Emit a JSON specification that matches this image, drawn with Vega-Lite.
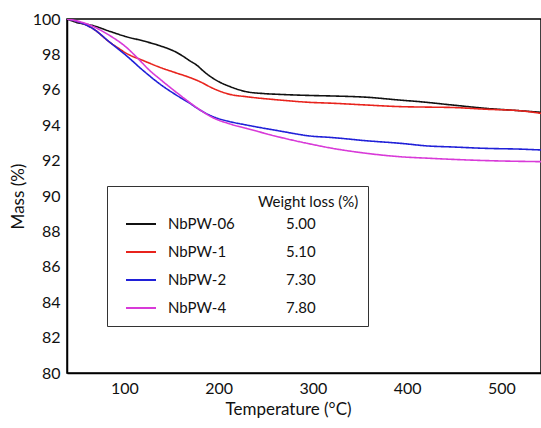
{
  "$schema": "https://vega.github.io/schema/vega-lite/v6.json",
  "width": 474,
  "height": 354,
  "autosize": {"type": "none"},
  "padding": {"left": 67, "top": 19, "right": 0, "bottom": 55},
  "background": "white",
  "config": {
    "font": "Lato",
    "view": {"stroke": "#000", "strokeWidth": 1.5},
    "axis": {"grid": false, "ticks": false, "tickSize": 0, "domainColor": "#000", "domainWidth": 1.5, "labelColor": "#111", "labelFontSize": 16, "labelFont": "Lato", "titleFont": "Lato", "titleFontSize": 17, "titleFontWeight": "normal", "titleColor": "#111"},
    "legend": {"labelFont": "Lato", "labelFontSize": 15, "labelColor": "#111", "titleFont": "Lato", "titleFontSize": 15, "titleFontWeight": "normal", "titleColor": "#111"}
  },
  "data": {"values": [
    {"series": "NbPW-06", "loss": "5.00", "T": 39, "mass": 100},
    {"series": "NbPW-06", "loss": "5.00", "T": 49, "mass": 99.81},
    {"series": "NbPW-06", "loss": "5.00", "T": 67, "mass": 99.62},
    {"series": "NbPW-06", "loss": "5.00", "T": 84.5, "mass": 99.3},
    {"series": "NbPW-06", "loss": "5.00", "T": 102, "mass": 99.0},
    {"series": "NbPW-06", "loss": "5.00", "T": 120, "mass": 98.76},
    {"series": "NbPW-06", "loss": "5.00", "T": 137.5, "mass": 98.49},
    {"series": "NbPW-06", "loss": "5.00", "T": 155, "mass": 98.12},
    {"series": "NbPW-06", "loss": "5.00", "T": 162, "mass": 97.9},
    {"series": "NbPW-06", "loss": "5.00", "T": 169, "mass": 97.65},
    {"series": "NbPW-06", "loss": "5.00", "T": 176.5, "mass": 97.4},
    {"series": "NbPW-06", "loss": "5.00", "T": 185, "mass": 97.0},
    {"series": "NbPW-06", "loss": "5.00", "T": 194, "mass": 96.65},
    {"series": "NbPW-06", "loss": "5.00", "T": 203, "mass": 96.38},
    {"series": "NbPW-06", "loss": "5.00", "T": 212, "mass": 96.18},
    {"series": "NbPW-06", "loss": "5.00", "T": 229.5, "mass": 95.89},
    {"series": "NbPW-06", "loss": "5.00", "T": 247, "mass": 95.79},
    {"series": "NbPW-06", "loss": "5.00", "T": 265, "mass": 95.74},
    {"series": "NbPW-06", "loss": "5.00", "T": 297, "mass": 95.68},
    {"series": "NbPW-06", "loss": "5.00", "T": 321, "mass": 95.65},
    {"series": "NbPW-06", "loss": "5.00", "T": 357, "mass": 95.58},
    {"series": "NbPW-06", "loss": "5.00", "T": 392, "mass": 95.42},
    {"series": "NbPW-06", "loss": "5.00", "T": 413, "mass": 95.33},
    {"series": "NbPW-06", "loss": "5.00", "T": 448, "mass": 95.14},
    {"series": "NbPW-06", "loss": "5.00", "T": 484, "mass": 94.95},
    {"series": "NbPW-06", "loss": "5.00", "T": 519, "mass": 94.82},
    {"series": "NbPW-06", "loss": "5.00", "T": 542, "mass": 94.73},
    {"series": "NbPW-1", "loss": "5.10", "T": 39, "mass": 100},
    {"series": "NbPW-1", "loss": "5.10", "T": 49, "mass": 99.87},
    {"series": "NbPW-1", "loss": "5.10", "T": 67, "mass": 99.44},
    {"series": "NbPW-1", "loss": "5.10", "T": 84.5, "mass": 98.68},
    {"series": "NbPW-1", "loss": "5.10", "T": 95, "mass": 98.3},
    {"series": "NbPW-1", "loss": "5.10", "T": 102, "mass": 98.06},
    {"series": "NbPW-1", "loss": "5.10", "T": 120, "mass": 97.65},
    {"series": "NbPW-1", "loss": "5.10", "T": 137.5, "mass": 97.27},
    {"series": "NbPW-1", "loss": "5.10", "T": 155, "mass": 96.95},
    {"series": "NbPW-1", "loss": "5.10", "T": 169, "mass": 96.7},
    {"series": "NbPW-1", "loss": "5.10", "T": 180, "mass": 96.46},
    {"series": "NbPW-1", "loss": "5.10", "T": 194, "mass": 96.08},
    {"series": "NbPW-1", "loss": "5.10", "T": 212, "mass": 95.74},
    {"series": "NbPW-1", "loss": "5.10", "T": 229.5, "mass": 95.61},
    {"series": "NbPW-1", "loss": "5.10", "T": 265, "mass": 95.42},
    {"series": "NbPW-1", "loss": "5.10", "T": 297, "mass": 95.29},
    {"series": "NbPW-1", "loss": "5.10", "T": 321, "mass": 95.24},
    {"series": "NbPW-1", "loss": "5.10", "T": 357, "mass": 95.14},
    {"series": "NbPW-1", "loss": "5.10", "T": 392, "mass": 95.05},
    {"series": "NbPW-1", "loss": "5.10", "T": 424, "mass": 95.02},
    {"series": "NbPW-1", "loss": "5.10", "T": 448, "mass": 95.0},
    {"series": "NbPW-1", "loss": "5.10", "T": 484, "mass": 94.9},
    {"series": "NbPW-1", "loss": "5.10", "T": 519, "mass": 94.82},
    {"series": "NbPW-1", "loss": "5.10", "T": 542, "mass": 94.67},
    {"series": "NbPW-2", "loss": "7.30", "T": 39, "mass": 100},
    {"series": "NbPW-2", "loss": "7.30", "T": 49, "mass": 99.87},
    {"series": "NbPW-2", "loss": "7.30", "T": 67, "mass": 99.44},
    {"series": "NbPW-2", "loss": "7.30", "T": 84.5, "mass": 98.68},
    {"series": "NbPW-2", "loss": "7.30", "T": 102, "mass": 97.93},
    {"series": "NbPW-2", "loss": "7.30", "T": 120, "mass": 97.08},
    {"series": "NbPW-2", "loss": "7.30", "T": 137.5, "mass": 96.33},
    {"series": "NbPW-2", "loss": "7.30", "T": 155, "mass": 95.7},
    {"series": "NbPW-2", "loss": "7.30", "T": 169, "mass": 95.25},
    {"series": "NbPW-2", "loss": "7.30", "T": 176.5, "mass": 94.98},
    {"series": "NbPW-2", "loss": "7.30", "T": 194, "mass": 94.48},
    {"series": "NbPW-2", "loss": "7.30", "T": 212, "mass": 94.2},
    {"series": "NbPW-2", "loss": "7.30", "T": 229.5, "mass": 94.01},
    {"series": "NbPW-2", "loss": "7.30", "T": 265, "mass": 93.67},
    {"series": "NbPW-2", "loss": "7.30", "T": 297, "mass": 93.39},
    {"series": "NbPW-2", "loss": "7.30", "T": 321, "mass": 93.3},
    {"series": "NbPW-2", "loss": "7.30", "T": 357, "mass": 93.12},
    {"series": "NbPW-2", "loss": "7.30", "T": 392, "mass": 92.98},
    {"series": "NbPW-2", "loss": "7.30", "T": 424, "mass": 92.82},
    {"series": "NbPW-2", "loss": "7.30", "T": 448, "mass": 92.77},
    {"series": "NbPW-2", "loss": "7.30", "T": 484, "mass": 92.69},
    {"series": "NbPW-2", "loss": "7.30", "T": 519, "mass": 92.65},
    {"series": "NbPW-2", "loss": "7.30", "T": 542, "mass": 92.6},
    {"series": "NbPW-4", "loss": "7.80", "T": 39, "mass": 100},
    {"series": "NbPW-4", "loss": "7.80", "T": 49, "mass": 99.9},
    {"series": "NbPW-4", "loss": "7.80", "T": 67, "mass": 99.57},
    {"series": "NbPW-4", "loss": "7.80", "T": 84.5, "mass": 99.06},
    {"series": "NbPW-4", "loss": "7.80", "T": 102, "mass": 98.4},
    {"series": "NbPW-4", "loss": "7.80", "T": 113, "mass": 97.84},
    {"series": "NbPW-4", "loss": "7.80", "T": 127, "mass": 97.08},
    {"series": "NbPW-4", "loss": "7.80", "T": 137.5, "mass": 96.61},
    {"series": "NbPW-4", "loss": "7.80", "T": 155, "mass": 95.86},
    {"series": "NbPW-4", "loss": "7.80", "T": 169, "mass": 95.29},
    {"series": "NbPW-4", "loss": "7.80", "T": 176.5, "mass": 95.0},
    {"series": "NbPW-4", "loss": "7.80", "T": 194, "mass": 94.42},
    {"series": "NbPW-4", "loss": "7.80", "T": 212, "mass": 94.07},
    {"series": "NbPW-4", "loss": "7.80", "T": 229.5, "mass": 93.82},
    {"series": "NbPW-4", "loss": "7.80", "T": 265, "mass": 93.32},
    {"series": "NbPW-4", "loss": "7.80", "T": 297, "mass": 92.94},
    {"series": "NbPW-4", "loss": "7.80", "T": 321, "mass": 92.69},
    {"series": "NbPW-4", "loss": "7.80", "T": 357, "mass": 92.41},
    {"series": "NbPW-4", "loss": "7.80", "T": 392, "mass": 92.22},
    {"series": "NbPW-4", "loss": "7.80", "T": 424, "mass": 92.13},
    {"series": "NbPW-4", "loss": "7.80", "T": 448, "mass": 92.07},
    {"series": "NbPW-4", "loss": "7.80", "T": 484, "mass": 92.0},
    {"series": "NbPW-4", "loss": "7.80", "T": 542, "mass": 91.94}
  ]},
  "mark": {"type": "line", "strokeWidth": 1.6, "interpolate": "monotone", "clip": true},
  "encoding": {
    "x": {"field": "T", "type": "quantitative", "scale": {"domain": [39, 542], "nice": false, "zero": false},
      "axis": {"values": [100, 200, 300, 400, 500], "labelPadding": 7, "title": "Temperature (°C)", "titleX": 221, "titleY": 28, "titleAlign": "center", "titleBaseline": "top", "titleAnchor": null}},
    "y": {"field": "mass", "type": "quantitative", "scale": {"domain": [80, 100], "nice": false, "zero": false},
      "axis": {"values": [80, 82, 84, 86, 88, 90, 92, 94, 96, 98, 100], "labelPadding": 7, "title": "Mass (%)", "titlePadding": 5}},
    "color": {"field": "series", "type": "nominal",
      "scale": {"domain": ["NbPW-06", "NbPW-1", "NbPW-2", "NbPW-4"], "range": ["#111111", "#e8231c", "#2020d8", "#d83ad8"]},
      "legend": {"title": null, "orient": "none", "legendX": 58, "legendY": 196, "padding": 0, "symbolType": "stroke", "symbolSize": 900, "symbolStrokeWidth": 2, "clipHeight": 18, "rowPadding": 10, "labelOffset": 11, "zindex": 2}},
    "strokeDash": {"field": "loss", "type": "nominal",
      "scale": {"domain": ["5.00", "5.10", "7.30", "7.80"], "range": [[1, 0], [1, 0], [1, 0], [1, 0]]},
      "legend": {"title": "\u200b\u00a0\u00a0\u00a0\u00a0\u00a0\u00a0\u00a0\u00a0\u00a0\u00a0\u00a0\u00a0\u00a0\u00a0\u00a0\u00a0\u00a0\u00a0\u00a0\u00a0\u00a0\u00a0\u00a0\u00a0\u00a0\u00a0\u00a0\u00a0\u00a0\u00a0\u00a0\u00a0\u00a0\u00a0\u00a0\u00a0\u00a0Weight loss (%)", "titleLimit": 600, "orient": "none", "legendX": 40, "legendY": 167, "padding": 9, "strokeColor": "#333", "symbolType": "stroke", "symbolSize": 900, "symbolOpacity": 0, "clipHeight": 18, "rowPadding": 10, "titlePadding": 5, "labelOffset": 138, "zindex": 1}}
  }
}
